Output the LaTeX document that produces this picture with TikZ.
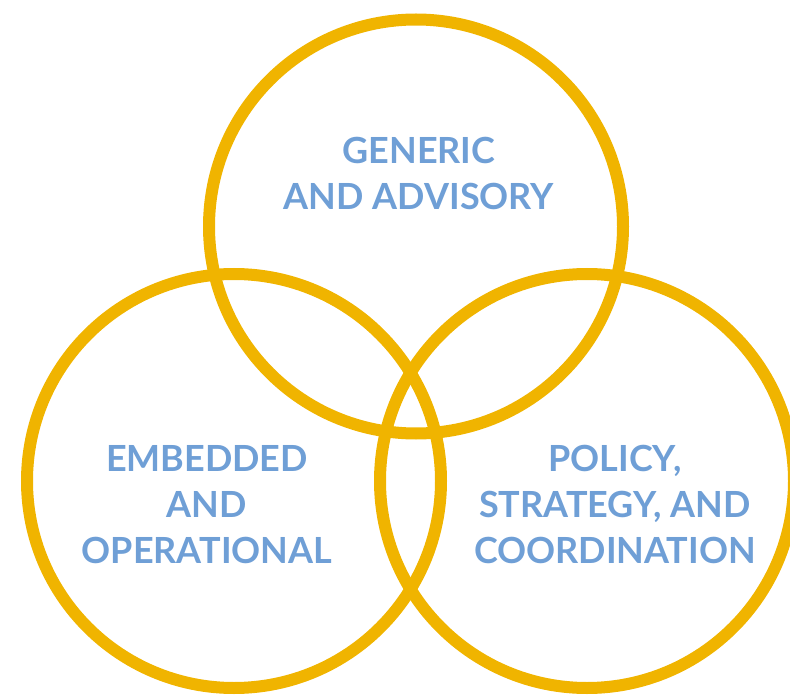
\documentclass[tikz,border=0pt]{standalone}
\usepackage{fontspec}
\setmainfont{Lato}
\definecolor{ringgold}{RGB}{240,180,0}
\definecolor{labelblue}{RGB}{111,159,214}
\begin{document}
\begin{tikzpicture}[x=1pt,y=-1pt,
  ring/.style={circle,draw=ringgold,line width=12pt,minimum size=414pt,inner sep=0pt},
  lbl/.style={text=labelblue,font=\fontsize{36}{46}\selectfont\bfseries,align=center,anchor=base,inner sep=0pt}]
\useasboundingbox (0,0) rectangle (790,695);
% the three overlapping rings
\node[ring] (top)   at (416,226.5) {};
\node[ring] (left)  at (234,481) {};
\node[ring] (right) at (587,481) {};
% labels (anchored at the baseline of their last line)
\node[lbl] (topl)   at (419,210) {GENERIC\\AND ADVISORY};
\node[lbl] (leftl)  at (207,563) {EMBEDDED\\AND\\OPERATIONAL};
\node[lbl] (rightl) at (615,563) {POLICY,\\STRATEGY, AND\\COORDINATION};
\end{tikzpicture}
\end{document}
